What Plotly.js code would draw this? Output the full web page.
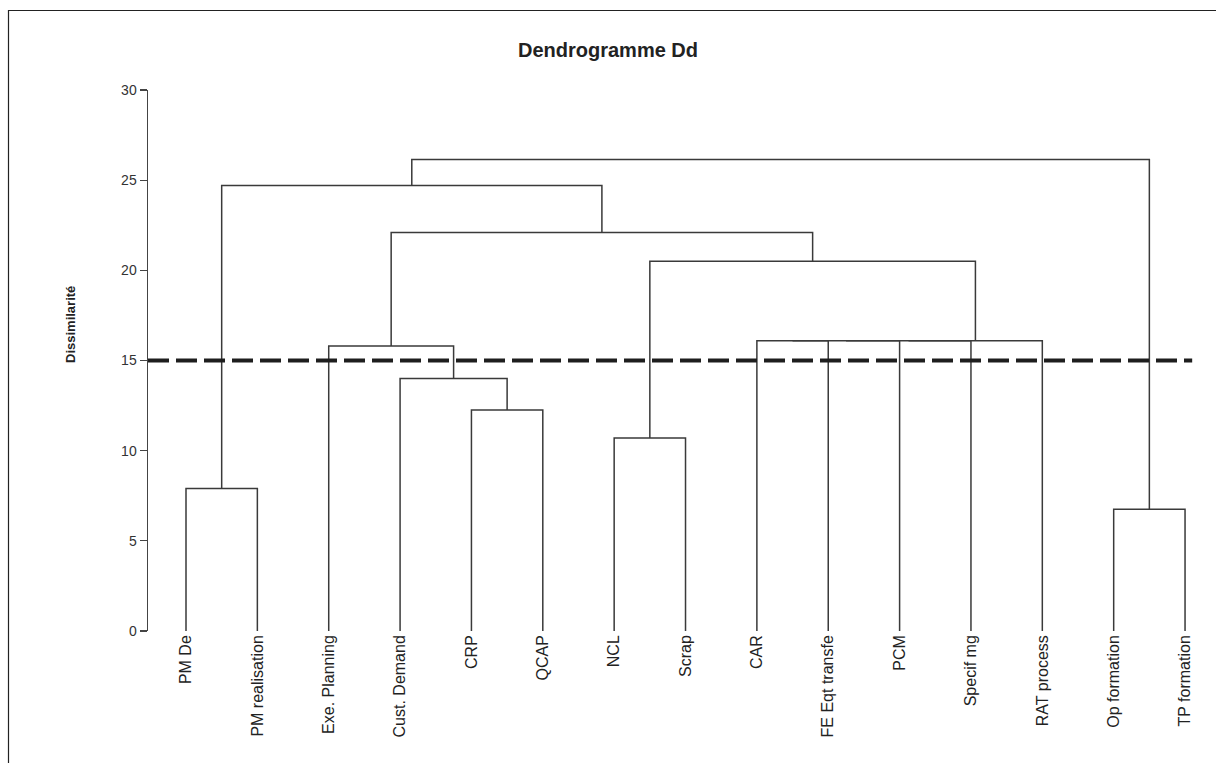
<!DOCTYPE html>
<html>
<head>
<meta charset="utf-8">
<script src="https://cdn.plot.ly/plotly-3.0.1.min.js"></script>
<style>html,body{margin:0;padding:0;background:#fff;}#chart{width:1216px;height:763px;}</style>
</head>
<body>
<div id="chart"></div>
<script>
// Leaves (left to right in the dendrogram)
const leafLabels = ["PM De", "PM realisation", "Exe. Planning", "Cust. Demand", "CRP", "QCAP",
  "NCL", "Scrap", "CAR", "FE Eqt transfe", "PCM", "Specif mg", "RAT process", "Op formation", "TP formation"];

// Merges: cluster ids 0..14 are leaves, new clusters get ids 15, 16, ...
const mergeLeft   = [0,    13,   4,     3,    2,    6,    8,    21,   22,   23,   20,   19,   15,   27];
const mergeRight  = [1,    14,   5,     17,   18,   7,    9,    10,   11,   12,   24,   25,   26,   16];
const mergeHeight = [7.9,  6.75, 12.25, 14.0, 15.8, 10.7, 16.1, 16.1, 16.1, 16.1, 20.5, 22.1, 24.7, 26.15];

const cutLevel = 15;
const yTicks = [0, 5, 10, 15, 20, 25, 30];

// Build dendrogram line segments
const nLeaves = leafLabels.length;
const pos = {}, hgt = {};
for (let i = 0; i < nLeaves; i++) { pos[i] = i; hgt[i] = 0; }
const xs = [], ys = [];
for (let k = 0; k < mergeLeft.length; k++) {
  const a = mergeLeft[k], b = mergeRight[k], h = mergeHeight[k];
  xs.push(pos[a], pos[a], pos[b], pos[b], null);
  ys.push(hgt[a], h, h, hgt[b], null);
  const id = nLeaves + k;
  pos[id] = (pos[a] + pos[b]) / 2;
  hgt[id] = h;
}

const W = 1216, H = 763;
const mL = 148, mR = 10, mT = 90, mB = 132;
const pxPerUnit = 71.36;
const xMin = -(186 - mL) / pxPerUnit;
const xMax = xMin + (W - mL - mR) / pxPerUnit;
const plotW = W - mL - mR, plotH = H - mT - mB;
const toPX = px => (px - mL) / plotW;
const toPY = py => (H - mB - py) / plotH;

const traces = [
  { x: xs, y: ys, mode: 'lines', type: 'scatter',
    line: { color: '#3a3a3a', width: 1.5 }, hoverinfo: 'skip', showlegend: false },
  { x: [xMin, nLeaves - 1 + 0.1], y: [cutLevel, cutLevel], mode: 'lines', type: 'scatter',
    line: { color: '#1e1e1e', width: 4, dash: '21px,7px' }, hoverinfo: 'skip', showlegend: false }
];

const layout = {
  width: W, height: H,
  margin: { l: mL, r: mR, t: mT, b: mB },
  paper_bgcolor: '#fff', plot_bgcolor: '#fff',
  font: { family: 'Liberation Sans, Arial, sans-serif', color: '#222' },
  title: { text: '<b>Dendrogramme Dd</b>', x: 0.5, xref: 'container', y: 1 - 50 / H, yanchor: 'middle',
    font: { size: 20, color: '#222', family: 'Liberation Sans, Arial, sans-serif' } },
  xaxis: {
    range: [xMin, xMax], showgrid: false, zeroline: false, showline: false,
    tickmode: 'array', tickvals: leafLabels.map((_, i) => i), ticktext: leafLabels,
    tickangle: -90, ticks: '', tickfont: { size: 16, color: '#222' }
  },
  yaxis: {
    range: [0, 30], showgrid: false, zeroline: false, showline: true,
    linecolor: '#444', linewidth: 1.5, ticks: 'outside', ticklen: 7, tickwidth: 1.2, tickcolor: '#444',
    tickmode: 'array', tickvals: yTicks, ticktext: yTicks.map(String),
    tickfont: { size: 14, color: '#333' }
  },
  annotations: [
    { text: '<b>Dissimilarité</b>', textangle: -90, xref: 'paper', yref: 'paper',
      x: toPX(70), y: toPY(325), showarrow: false, xanchor: 'center', yanchor: 'middle',
      font: { size: 13, color: '#222' } }
  ],
  shapes: [
    { type: 'rect', xref: 'paper', yref: 'paper', x0: toPX(8.5), x1: toPX(1240), y0: toPY(10.5), y1: toPY(790),
      line: { color: '#222', width: 1.2 }, fillcolor: 'rgba(0,0,0,0)', layer: 'above' }
  ],
  showlegend: false
};

Plotly.newPlot('chart', traces, layout, { displayModeBar: false, staticPlot: true });
</script>
</body>
</html>
